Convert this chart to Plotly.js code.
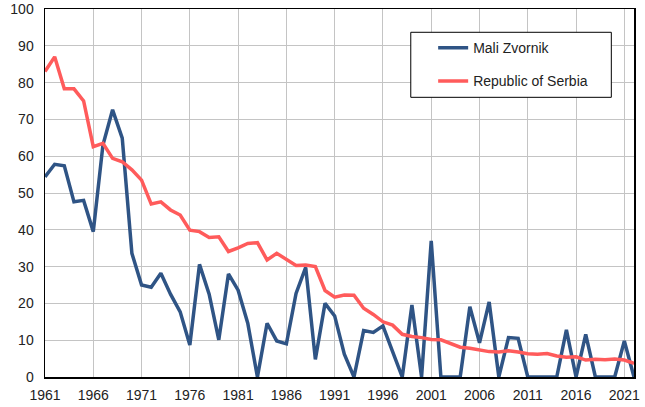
<!DOCTYPE html>
<html>
<head>
<meta charset="utf-8">
<script src="https://cdn.plot.ly/plotly-3.0.1.min.js"></script>
<style>html,body{margin:0;padding:0;background:#fff;}#chart{width:645px;height:407px;}</style>
</head>
<body>
<div id="chart"></div>
<script>
const years = [];
for (let y = 1961; y <= 2022; y++) years.push(y);

const maliZvornik = [
  54.4, 57.8, 57.4, 47.6, 48.0, 39.5, 63.0, 72.6, 64.9, 33.6,
  25.0, 24.4, 28.2, 22.5, 17.7, 8.7, 30.6, 22.5, 10.1, 28.0,
  23.6, 14.6, 0, 14.6, 9.8, 9.0, 22.7, 29.8, 4.8, 20.0,
  16.6, 6.2, 0, 12.6, 12.1, 13.9, 6.9, 0, 19.6, 0,
  37.0, 0, 0, 0, 19.1, 9.3, 20.4, 0, 10.7, 10.5,
  0, 0, 0, 0, 12.8, 0, 11.6, 0, 0, 0,
  9.8, 0
];

const serbia = [
  83.0, 87.0, 78.3, 78.3, 75.0, 62.6, 63.5, 59.4, 58.5, 56.3,
  53.5, 47.0, 47.6, 45.4, 44.0, 39.9, 39.5, 37.9, 38.1, 34.1,
  35.1, 36.3, 36.5, 31.8, 33.6, 32.0, 30.3, 30.4, 30.0, 23.5,
  21.7, 22.3, 22.2, 18.7, 17.0, 15.0, 14.1, 11.6, 11.0, 10.7,
  10.2, 10.1, 9.0, 8.1, 7.8, 7.3, 6.9, 6.8, 7.1, 6.8,
  6.3, 6.2, 6.4, 5.7, 5.4, 5.5, 4.6, 4.8, 4.7, 4.9,
  4.6, 3.7
];

const seriesNames = ['Mali Zvornik', 'Republic of Serbia'];
const seriesColors = ['#2f5485', '#ff5b5b'];

const traces = [
  {x: years, y: maliZvornik, name: seriesNames[0], type: 'scatter', mode: 'lines',
   line: {color: seriesColors[0], width: 3.5}, legendgroup: 'a'},
  {x: years, y: serbia, name: seriesNames[1], type: 'scatter', mode: 'lines',
   line: {color: seriesColors[1], width: 3.5}, legendgroup: 'b'}
];

const layout = {
  width: 645, height: 407,
  margin: {l: 45, r: 11, t: 9, b: 30},
  paper_bgcolor: '#fff', plot_bgcolor: '#fff',
  font: {family: 'Liberation Sans, Arial, sans-serif', size: 14, color: '#222'},
  showlegend: true,
  legend: {
    x: 0.659, y: 0.937, xanchor: 'left', yanchor: 'top',
    borderwidth: 0, bgcolor: 'rgba(0,0,0,0)',
    font: {size: 14, color: '#222'},
    traceorder: 'grouped', tracegroupgap: 12
  },
  shapes: [{
    type: 'rect', xref: 'paper', yref: 'paper', layer: 'above',
    x0: 0.621, x1: 0.9615, y0: 0.760, y1: 0.9367,
    line: {color: '#000', width: 1}, fillcolor: '#fff'
  }],
  xaxis: {
    range: [1961, 2022], tick0: 1961, dtick: 5,
    showgrid: true, gridcolor: '#c4c4c4', gridwidth: 1,
    showline: true, linecolor: '#000', linewidth: 1.5, mirror: true,
    ticks: '', ticklabelstandoff: 5, zeroline: false, fixedrange: true
  },
  yaxis: {
    range: [0, 100], tick0: 0, dtick: 10,
    showgrid: true, gridcolor: '#c4c4c4', gridwidth: 1,
    showline: true, linecolor: '#000', linewidth: 1.5, mirror: true,
    ticks: '', ticklabelstandoff: 7, zeroline: false, fixedrange: true
  }
};

Plotly.newPlot('chart', traces, layout, {displayModeBar: false, staticPlot: true});
</script>
</body>
</html>
